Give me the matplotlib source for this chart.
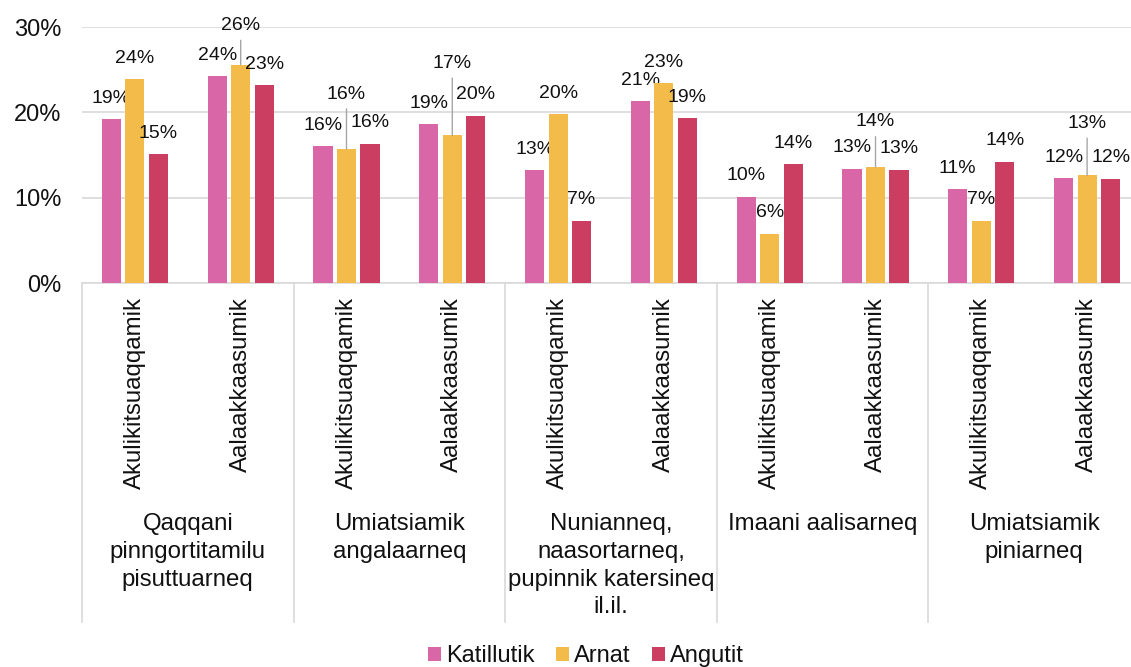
import matplotlib.pyplot as plt
import numpy as np
from matplotlib.patches import Patch
from matplotlib.transforms import blended_transform_factory

plt.rcParams['font.family'] = ['Liberation Sans', 'DejaVu Sans']

# data
groups = ["Qaqqani\npinngortitamilu\npisuttuarneq",
          "Umiatsiamik\nangalaarneq",
          "Nunianneq,\nnaasortarneq,\npupinnik katersineq\nil.il.",
          "Imaani aalisarneq",
          "Umiatsiamik\npiniarneq"]
subcats = ["Akulikitsuaqqamik", "Aalaakkaasumik"] * 5
series = ["Katillutik", "Arnat", "Angutit"]
katillutik = [19.2, 24.2, 16.0, 18.6, 13.2, 21.3, 10.1, 13.4, 11.0, 12.3]
arnat = [23.9, 25.6, 15.7, 17.3, 19.8, 23.4, 5.8, 13.6, 7.3, 12.6]
angutit = [15.1, 23.2, 16.3, 19.6, 7.3, 19.3, 13.9, 13.3, 14.2, 12.2]

colors = ["#D966A6", "#F3BB4A", "#CB3E62"]
text_c = "#111111"
grid_c = "#d9d9d9"

# extra lift (px) for labels that got moved up with a leader line
lift = {(1, 1): 18, (1, 2): 34, (1, 3): 51, (1, 7): 24, (1, 9): 31}

W, H = 1131, 667
fig = plt.figure(figsize=(W / 100, H / 100), dpi=100)
ax = fig.add_axes([82 / W, 1 - 283 / H, (1140 - 82) / W, 256 / H])

x = np.arange(len(subcats))
width = 0.18
step = 0.222
px = 0.72  # px -> pt at dpi 100

for s, vals in enumerate([katillutik, arnat, angutit]):
    xs = x + (s - 1) * step
    ax.bar(xs, vals, width, color=colors[s], zorder=3, label=series[s])
    for i, (xi, v) in enumerate(zip(xs, vals)):
        up = 21 + lift.get((s, i), 0)
        if (s, i) in lift:
            ax.annotate(f"{v:.0f}%", (xi, v), xytext=(0, up * px),
                        textcoords="offset points", ha="center", va="center",
                        fontsize=14, color=text_c,
                        arrowprops=dict(arrowstyle="-", color="#a6a6a6", lw=1.0,
                                        relpos=(0.5, 0), shrinkA=2.5, shrinkB=0))
        else:
            ax.annotate(f"{v:.0f}%", (xi, v), xytext=(0, up * px),
                        textcoords="offset points", ha="center", va="center",
                        fontsize=14, color=text_c)

ax.set_ylim(0, 30)
ax.set_xlim(-0.5, len(subcats) - 0.5)
ax.set_yticks([0, 10, 20, 30])
ax.set_yticklabels(["0%", "10%", "20%", "30%"])
ax.yaxis.grid(True, color=grid_c, lw=1.2, zorder=0)
ax.set_axisbelow(True)
for sp in ["top", "right", "left"]:
    ax.spines[sp].set_visible(False)
ax.spines["bottom"].set_color(grid_c)
ax.spines["bottom"].set_linewidth(1.2)
ax.tick_params(axis="y", length=0, pad=15, labelsize=17, labelcolor=text_c)
ax.set_xticks(x)
ax.set_xticklabels(subcats, rotation=90, va="top", ha="center")
ax.tick_params(axis="x", length=0, pad=10, labelsize=17.3, labelcolor=text_c)

# group labels and separators below the axis
tr = blended_transform_factory(ax.transData, ax.transAxes)
for g, name in enumerate(groups):
    ax.text(2 * g + 0.5, -0.9, name, transform=tr, ha="center", va="top",
            fontsize=17.3, color=text_c, linespacing=1.33)
for b in np.arange(-0.5, len(subcats), 2):
    ax.plot([b, b], [0, -1.324], transform=tr, color=grid_c, lw=1.2,
            clip_on=False)

handles = [Patch(facecolor=c, label=n) for c, n in zip(colors, series)]
fig.legend(handles=handles, loc="center", bbox_to_anchor=(586 / W, 1 - 656 / H),
           ncol=3, frameon=False, fontsize=17, handlelength=0.55,
           handleheight=0.55, handletextpad=0.2, columnspacing=0.93,
           labelcolor=text_c)

plt.savefig("out.png", dpi=100)
